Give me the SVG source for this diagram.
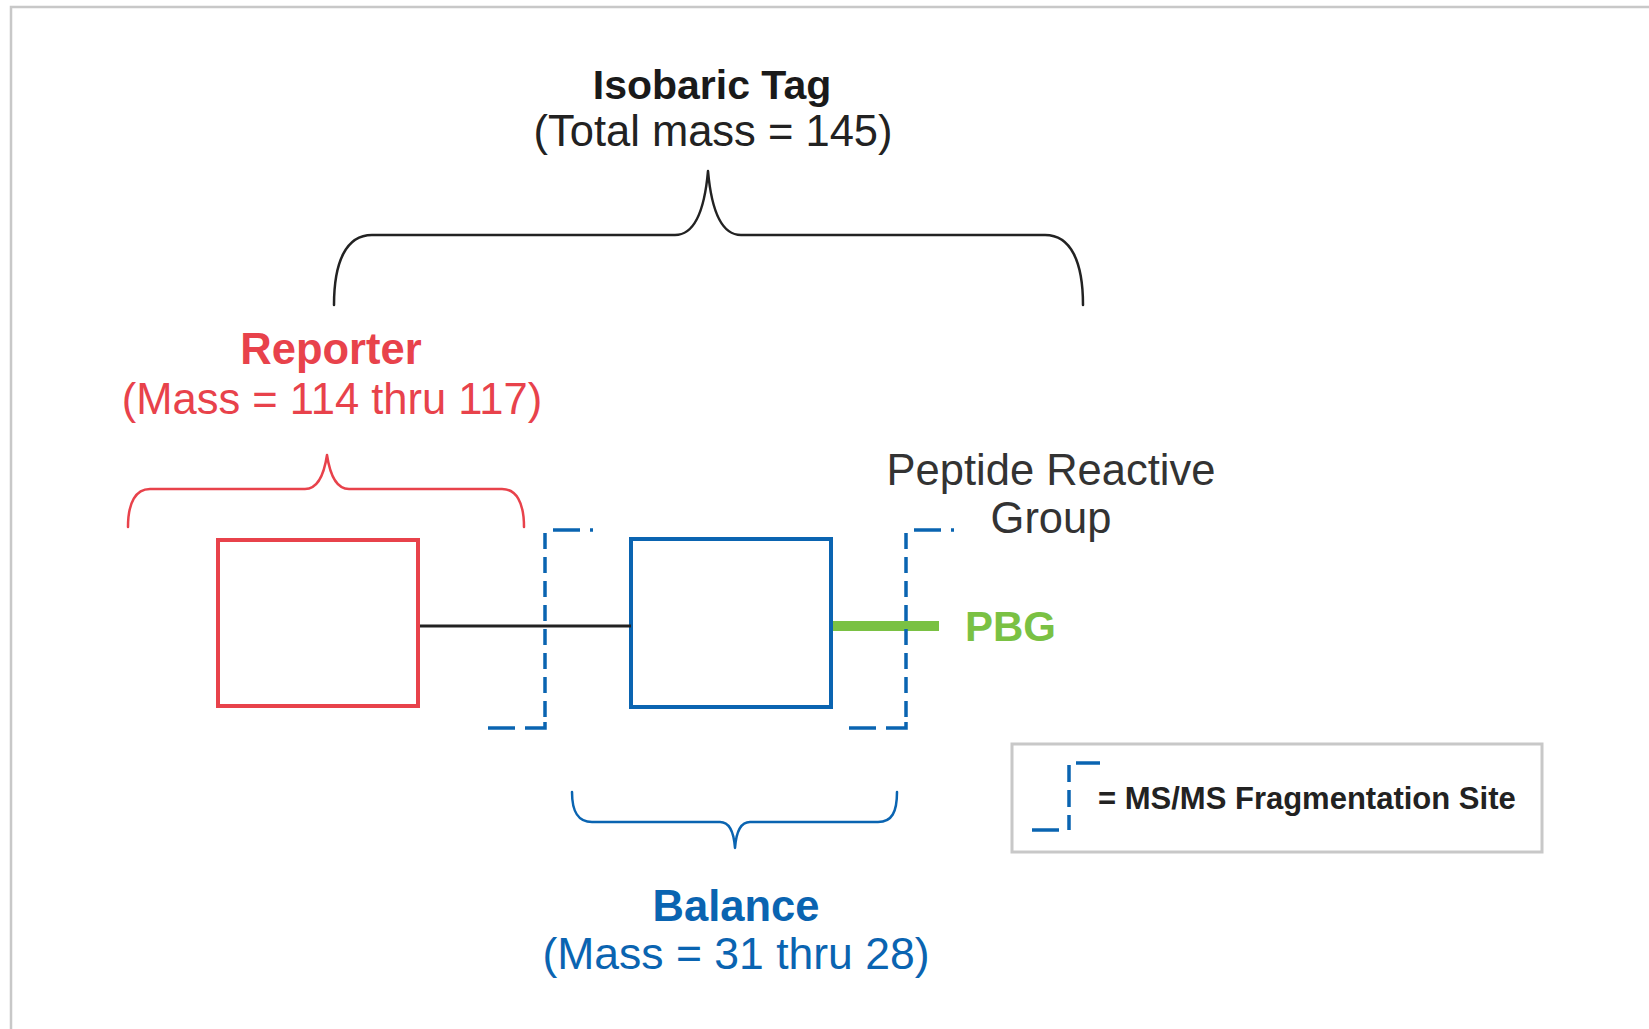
<svg xmlns="http://www.w3.org/2000/svg" width="1649" height="1029" viewBox="0 0 1649 1029">
<style>
text{font-family:"Liberation Sans",Arial,sans-serif;text-anchor:middle}
.b{font-weight:bold}
.big{font-size:43.5px}
.brace{fill:none;stroke-width:2.5;stroke-linecap:round;stroke-linejoin:round}
.frag{stroke:#0a64b1;stroke-width:3.5;fill:none}
.red{fill:#e8424b}
.blue{fill:#0a64b1}
</style>
<defs>
<g id="fragSite">
<line class="frag" x1="553" y1="530" x2="580" y2="530"/>
<line class="frag" x1="590" y1="530" x2="593" y2="530"/>
<line class="frag" x1="545" y1="533" x2="545" y2="722" stroke-dasharray="16 8"/>
<polyline class="frag" points="545,722 545,728 525,728"/>
<line class="frag" x1="488" y1="728" x2="515" y2="728"/>
</g>
</defs>
<rect width="1649" height="1029" fill="#fff"/>
<g id="frame">
<path d="M11,1029 L11,7 L1649,7" fill="none" stroke="#c8c8c8" stroke-width="2.5"/>
</g>
<g id="isobaric-tag">
<text class="b" x="712" y="99" font-size="41" fill="#1a1a1a">Isobaric Tag</text>
<text class="big" x="713" y="146" fill="#222">(Total mass = 145)</text>
<path class="brace" stroke="#222" d="M334,305 C334,262 346,235 372,235 L675,235 C697,235 705,205 708,171 C711,205 719,235 741,235 L1045,235 C1071,235 1083,262 1083,305"/>
</g>
<g id="reporter">
<text class="b big red" x="331" y="364">Reporter</text>
<text class="big red" x="332" y="414">(Mass = 114 thru 117)</text>
<path class="brace" stroke="#e8424b" d="M128,527 C128,502 136,489 150,489 L305,489 C318,489 324,475 327,455 C330,475 336,489 349,489 L502,489 C516,489 524,502 524,527"/>
<rect x="218" y="540" width="200" height="166" fill="none" stroke="#e8424b" stroke-width="4"/>
</g>
<g id="balance">
<rect x="631" y="539" width="200" height="168" fill="none" stroke="#0a64b1" stroke-width="4"/>
<path class="brace" stroke="#0a64b1" d="M572,792 C572,812 578,822 592,822 L720,822 C730,822 734,834 735,848 C736,834 740,822 750,822 L878,822 C892,822 897,812 897,792"/>
<text class="b big blue" x="736" y="921">Balance</text>
<text class="blue" x="736" y="969" font-size="44.5">(Mass = 31 thru 28)</text>
</g>
<g id="pbg">
<text class="b" x="965" y="641" font-size="42" fill="#7ac143" style="text-anchor:start">PBG</text>
<text class="big" x="1051" y="485" fill="#333">Peptide Reactive</text>
<text class="big" x="1051" y="533" fill="#333">Group</text>
</g>
<g id="connectors">
<line x1="420" y1="626" x2="631" y2="626" stroke="#222" stroke-width="3"/>
<line x1="833" y1="626" x2="939" y2="626" stroke="#7ac143" stroke-width="10"/>
</g>
<g id="frag-site-1"><use href="#fragSite"/></g>
<g id="frag-site-2"><use href="#fragSite" x="361"/></g>
<g id="legend">
<rect x="1012" y="744" width="530" height="108" fill="#fff" stroke="#c8c8c8" stroke-width="3"/>
<line class="frag" x1="1032" y1="830" x2="1059" y2="830"/>
<line class="frag" x1="1069" y1="765" x2="1069" y2="830" stroke-dasharray="17 8"/>
<line class="frag" x1="1076" y1="763" x2="1100" y2="763"/>
<text class="b" x="1098" y="809" font-size="31" fill="#222" style="text-anchor:start">= MS/MS Fragmentation Site</text>
</g>
</svg>
